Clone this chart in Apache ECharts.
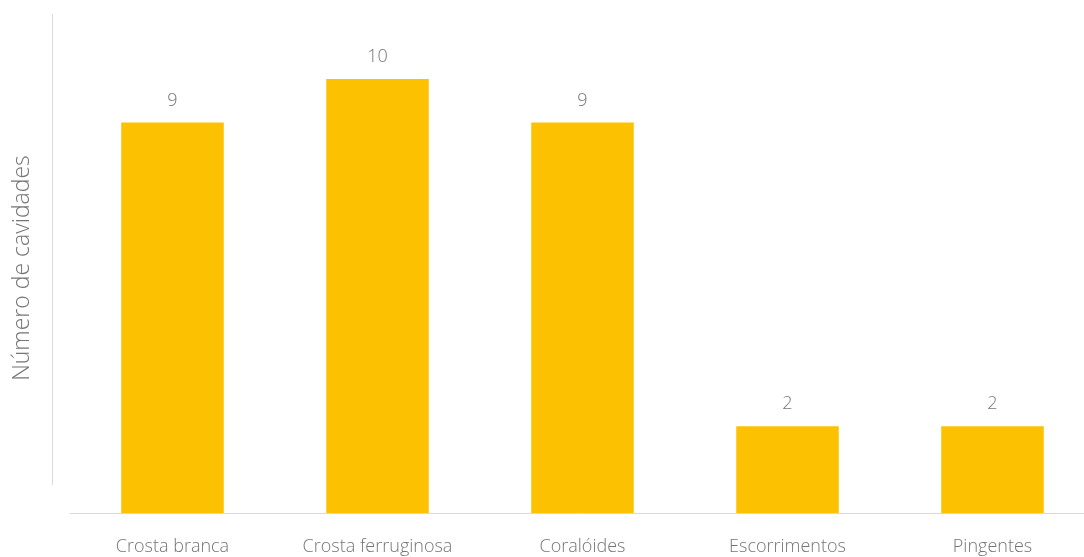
<!DOCTYPE html>
<html>
<head>
<meta charset="utf-8">
<script src="https://cdn.jsdelivr.net/npm/echarts@6/dist/echarts.min.js"></script>
<style>
  html, body { margin: 0; padding: 0; background: #fff; overflow: hidden; }
  body { width: 1084px; height: 557px; }
  /* the plot area runs a little past the right edge of the page */
  #chart { width: 1095px; height: 557px; }
</style>
</head>
<body>
<div id="chart"></div>
<script>
// Tipos de espeleotemas e número de cavidades em que ocorrem
const categories = ['Crosta branca', 'Crosta ferruginosa', 'Coralóides', 'Escorrimentos', 'Pingentes'];
const cavityCounts = [9, 10, 9, 2, 2];
const axisTitle = 'Número de cavidades';

const textColor = '#757575';
const fontFamily = '"Open Sans", "Segoe UI", "Noto Sans", sans-serif';

const chart = echarts.init(document.getElementById('chart'));
chart.setOption({
  animation: false,
  grid: { left: 70, right: 0, top: 35.6, bottom: 44 },
  xAxis: {
    type: 'category',
    data: categories,
    axisLine: { lineStyle: { color: '#d9d9d9', width: 1 } },
    axisTick: { show: false },
    axisLabel: { color: textColor, fontSize: 18, fontFamily, fontWeight: 300, margin: 25 }
  },
  yAxis: {
    type: 'value',
    min: 0,
    max: 11,
    show: false
  },
  series: [{
    type: 'bar',
    data: cavityCounts,
    barWidth: '50%',
    itemStyle: { color: '#FCC100' },
    label: {
      show: true,
      position: 'top',
      distance: 13,
      color: textColor,
      fontSize: 18,
      fontFamily,
      fontWeight: 300
    }
  }],
  graphic: [
    {
      type: 'line',
      shape: { x1: 52.5, y1: 14, x2: 52.5, y2: 485 },
      style: { stroke: '#d9d9d9', lineWidth: 1 }
    },
    {
      type: 'text',
      x: 22,
      y: 268,
      rotation: Math.PI / 2,
      style: {
        text: axisTitle,
        fill: textColor,
        font: '300 23px ' + fontFamily,
        align: 'center',
        verticalAlign: 'middle'
      }
    }
  ]
});
</script>
</body>
</html>
